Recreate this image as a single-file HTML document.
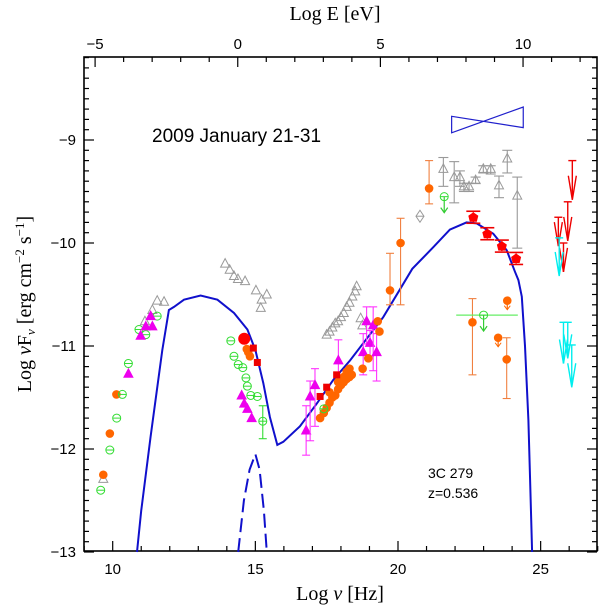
<!DOCTYPE html>
<html><head><meta charset="utf-8"><style>
html,body{margin:0;padding:0;background:#fff;}
svg{display:block;}
.tk{font-family:"Liberation Sans",sans-serif;font-size:15px;fill:#000;}
.tt{font-family:"Liberation Serif",serif;font-size:20px;fill:#000;}
</style></head><body>
<svg id="chart" width="600" height="607" viewBox="0 0 600 607" xmlns="http://www.w3.org/2000/svg">
<rect x="84" y="57" width="513" height="494" fill="none" stroke="#000" stroke-width="1.6"/>
<g id="ticks"></g>
<g id="marks"></g>
<text class="tt" x="340" y="600" text-anchor="middle">Log <tspan font-style="italic">ν</tspan> [Hz]</text>
<text class="tt" x="335" y="20" text-anchor="middle">Log E [eV]</text>
<text class="tt" transform="translate(31,304) rotate(-90)" text-anchor="middle">Log <tspan font-style="italic">ν</tspan>F<tspan font-size="13" dy="4"><tspan font-style="italic">ν</tspan></tspan><tspan dy="-4"> [erg cm</tspan><tspan font-size="13" dy="-7">−2</tspan><tspan dy="7"> s</tspan><tspan font-size="13" dy="-7">−1</tspan><tspan dy="7">]</tspan></text>
<text x="152" y="142" font-family="Liberation Sans, sans-serif" font-size="19">2009 January 21-31</text>
<text x="428" y="478" font-family="Liberation Sans, sans-serif" font-size="14">3C 279</text>
<text x="428" y="498" font-family="Liberation Sans, sans-serif" font-size="14">z=0.536</text>
</svg>
<script>
const xTicksMajor=[10,15,20,25];
const eTicksMajor=[-5,0,5,10];
const yTicksMajor=[-9,-10,-11,-12,-13];
const curveNu=[10.85,11.0,11.33,11.74,11.97,12.15,12.5,13.08,13.67,14.25,14.72,15.0,15.28,15.51,15.77,15.98,16.56,17.15,17.73,18.32,18.9,19.48,20.07,20.5,21.24,21.82,22.4,22.76,23.34,23.81,24.1,24.22,24.34,24.45,24.57,24.63,24.7];
const curveF=[-13,-12.6,-11.88,-11.04,-10.65,-10.62,-10.55,-10.51,-10.55,-10.68,-10.84,-11.04,-11.36,-11.69,-11.96,-11.93,-11.78,-11.56,-11.33,-11.14,-10.93,-10.72,-10.45,-10.25,-10.04,-9.87,-9.8,-9.81,-9.91,-10.07,-10.28,-10.36,-10.52,-11.0,-11.72,-12.3,-13];
const diskNu=[14.4,14.6,14.8,15.0,15.15,15.3,15.4];
const diskF=[-13,-12.5,-12.2,-12.05,-12.2,-12.6,-13];
const grayNu=[9.67,11.13,11.39,11.56,11.80,13.94,14.1,14.25,14.39,14.64,15.02,15.40,15.22,15.19,17.5,17.6,17.7,17.8,17.9,18.0,18.1,18.2,18.3,18.4,18.5,18.55,18.69,18.75];
const grayF=[-12.29,-10.76,-10.65,-10.56,-10.57,-10.2,-10.26,-10.32,-10.35,-10.37,-10.46,-10.5,-10.55,-10.63,-10.89,-10.86,-10.82,-10.78,-10.76,-10.72,-10.68,-10.62,-10.58,-10.52,-10.47,-10.42,-10.73,-10.8];
const grayGamNu=[21.59,21.97,22.17,22.31,22.49,22.72,22.99,23.25,23.54,23.83,24.18];
const grayGamF=[-9.28,-9.36,-9.36,-9.45,-9.45,-9.39,-9.28,-9.28,-9.44,-9.18,-9.54];
const grayGamHi=[-9.17,-9.21,-9.3,-9.42,-9.42,-9.36,-9.25,-9.25,-9.35,-9.1,-9.36];
const grayGamLo=[-9.45,-9.61,-9.45,-9.5,-9.5,-9.42,-9.32,-9.33,-9.56,-9.32,-10.05];
const diamondNu=[20.77];
const diamondF=[-9.74];
const greenNu=[9.58,9.90,10.14,10.34,10.55,10.92,11.16,11.56,14.14,14.25,14.40,14.56,14.67,14.72,14.84,15.07,15.26,17.4];
const greenF=[-12.40,-12.01,-11.70,-11.47,-11.17,-10.84,-10.89,-10.71,-10.95,-11.1,-11.18,-11.21,-11.31,-11.39,-11.48,-11.49,-11.73,-11.61];
const greenLimNu=[21.62,23.0];
const greenLimF=[-9.55,-10.70];
const orangeNu=[9.67,9.90,10.13,14.70,14.81,14.75,17.27,17.4,17.5,17.6,17.7,17.8,17.9,18.0,18.1,18.2,18.3,18.38,17.6,17.9,18.1,18.2,18.3,18.76,18.96,19.29,19.35];
const orangeF=[-12.25,-11.85,-11.47,-11.03,-11.1,-11.06,-11.70,-11.65,-11.6,-11.55,-11.5,-11.48,-11.42,-11.38,-11.35,-11.32,-11.3,-11.28,-11.45,-11.35,-11.3,-11.25,-11.22,-11.22,-11.12,-10.76,-10.86];
const orangeErrNu=[19.72,20.09,21.09,22.61,23.81];
const orangeErrF=[-10.46,-10.0,-9.47,-10.77,-11.13];
const orangeErrHi=[-10.1,-9.76,-9.2,-10.54,-10.92];
const orangeErrLo=[-10.6,-10.6,-9.62,-11.28,-11.51];
const orangeLimNu=[23.83,23.51];
const orangeLimF=[-10.56,-10.92];
const magNu=[10.55,10.98,11.16,11.39,11.33,14.52,14.61,14.72,14.87];
const magF=[-11.27,-10.9,-10.81,-10.81,-10.71,-11.48,-11.56,-11.61,-11.70];
const magErrNu=[16.78,16.92,17.09,17.91,18.78,18.90,19.02,19.13,19.25];
const magErrF=[-11.82,-11.49,-11.38,-11.14,-11.06,-10.76,-10.97,-10.80,-11.06];
const magErrHi=[-11.58,-11.34,-11.22,-10.94,-10.88,-10.62,-10.85,-10.62,-10.88];
const magErrLo=[-12.06,-11.92,-11.78,-11.28,-11.28,-10.98,-11.1,-11.24,-11.34];
const redCircNu=[14.61];
const redCircF=[-10.93];
const redSqNu=[14.93,15.07,17.27,17.5,17.85];
const redSqF=[-11.02,-11.16,-11.49,-11.40,-11.28];
const redPentNu=[22.64,23.13,23.64,24.14];
const redPentF=[-9.75,-9.91,-10.03,-10.15];
const redArrNu=[26.11,25.95,25.62,25.8];
const redArrTop=[-9.2,-9.6,-9.75,-10.0];
const redArrTip=[-9.58,-9.98,-10.03,-10.28];
const cyanArrNu=[25.65,25.8,25.95,26.09];
const cyanArrTop=[-9.95,-10.77,-10.77,-10.99];
const cyanArrTip=[-10.32,-11.17,-11.12,-11.4];
const bowNu=[21.88,24.39];
const bowTop=[-8.77,-8.68];
const bowBot=[-8.93,-8.88];

const NS='http://www.w3.org/2000/svg';
function px(n){return 112.7+(n-10)*28.53;}
function py(v){return 140-(v+9)*103;}
const T=document.getElementById('ticks'), M=document.getElementById('marks');
function mk(tag,attrs,parent){const e=document.createElementNS(NS,tag);for(const k in attrs)e.setAttribute(k,attrs[k]);(parent||M).appendChild(e);return e;}
function line(x1,y1,x2,y2,c,w,p){return mk('line',{x1:x1,y1:y1,x2:x2,y2:y2,stroke:c,'stroke-width':w||1},p);}
for(let n=9;n<=27;n++){const x=px(n);const L=(n%5===0)?10:5;
 line(x,551,x,551-L,'#000',1.2,T);}
for(let e=-6;e<=12;e++){const x=px(e+14.383);if(x<84||x>597)continue;const L=(e%5===0)?10:5;line(x,57,x,57+L,'#000',1.2,T);}
for(let i=-130;i<=-82;i++){const v=i/10;const y=py(v);const L=(i%10===0)?10:5;line(84,y,84+L,y,'#000',1.2,T);line(597,y,597-L,y,'#000',1.2,T);}
xTicksMajor.forEach(n=>{const t=mk('text',{x:px(n),y:574,'text-anchor':'middle',class:'tk'},T);t.textContent=n;

});
eTicksMajor.forEach(e=>{const t=mk('text',{x:px(e+14.383),y:49,'text-anchor':'middle',class:'tk'},T);t.textContent=(e<0?'−':'')+Math.abs(e);

});
yTicksMajor.forEach(v=>{const t=mk('text',{x:76,y:py(v)+5,'text-anchor':'end',class:'tk'},T);t.textContent='−'+Math.abs(v);

});
let d=curveNu.map((n,i)=>(i?'L':'M')+px(n).toFixed(1)+','+py(curveF[i]).toFixed(1)).join(' ');
const c1=mk('path',{d:d,fill:'none',stroke:'#1010cc','stroke-width':2});


d=diskNu.map((n,i)=>(i?'L':'M')+px(n).toFixed(1)+','+py(diskF[i]).toFixed(1)).join(' ');
const c2=mk('path',{d:d,fill:'none',stroke:'#1010cc','stroke-width':2,'stroke-dasharray':'14,6'});


const bw=mk('polygon',{points:[px(bowNu[0]),py(bowTop[0]),px(bowNu[1]),py(bowBot[1]),px(bowNu[1]),py(bowTop[1]),px(bowNu[0]),py(bowBot[0])].join(' '),fill:'none',stroke:'#2020cc','stroke-width':1.2});


function err(n,hi,lo,c,w){const x=px(n);w=w||4;line(x,py(hi),x,py(lo),c,1.1);line(x-w,py(hi),x+w,py(hi),c,1.1);line(x-w,py(lo),x+w,py(lo),c,1.1);}
function tri(n,v,c,fill,name){const x=px(n),y=py(v);const p=mk('polygon',{points:`${x},${y-5} ${x-4.5},${y+3.5} ${x+4.5},${y+3.5}`,fill:fill,stroke:c,'stroke-width':1});

}
function circ(n,v,r,c,fill,name){const x=px(n),y=py(v);const p=mk('circle',{cx:x,cy:y,r:r,fill:fill,stroke:c,'stroke-width':1});

if(fill==='none')line(x-r,y,x+r,y,c,1);}
function arrow(n,top,tip,c,name){const x=px(n),y1=py(top),y2=py(tip);const g=mk('g',{});


line(x,y1,x,y2,c,1.4,g);line(x-4,y1,x+4,y1,c,1.4,g);mk('polyline',{points:`${x-4},${y2-24} ${x},${y2} ${x+4},${y2-24}`,fill:'none',stroke:c,'stroke-width':1.4},g);}
grayGamNu.forEach((n,i)=>{err(n,grayGamHi[i],grayGamLo[i],'#999',5);tri(n,grayGamF[i],'#999','none','gray-gamma-point');});
grayNu.forEach((n,i)=>tri(n,grayF[i],'#999','none','gray-point'));
diamondNu.forEach((n,i)=>{const x=px(n),y=py(diamondF[i]);const p=mk('polygon',{points:`${x},${y-6} ${x-4},${y} ${x},${y+6} ${x+4},${y}`,fill:'none',stroke:'#999'});

line(x-4,y,x+4,y,'#999',1);});
orangeErrNu.forEach((n,i)=>{err(n,orangeErrHi[i],orangeErrLo[i],'#f08040');circ(n,orangeErrF[i],3.8,'#f60','#f60','orange-point');});
magErrNu.forEach((n,i)=>{err(n,magErrHi[i],magErrLo[i],'#f3f');tri(n,magErrF[i],'#e0e','#e0e','magenta-xray-point');});
orangeNu.forEach((n,i)=>circ(n,orangeF[i],3.8,'#f60','#f60','orange-point'));
orangeLimNu.forEach((n,i)=>{const x=px(n),y=py(orangeLimF[i]);line(x,y,x,y+9,'#f60',1.2);mk('polyline',{points:`${x-3},${y+5} ${x},${y+9} ${x+3},${y+5}`,fill:'none',stroke:'#f60'});circ(n,orangeLimF[i],3.8,'#f60','#f60','orange-limit');});
greenNu.forEach((n,i)=>circ(n,greenF[i],4,'#3d3','none','green-point'));
err(15.26,-11.58,-11.9,'#3d3');
line(px(22.04),py(-10.70),px(24.2),py(-10.70),'#6e6',1.2);
greenLimNu.forEach((n,i)=>{const x=px(n),y=py(greenLimF[i]);line(x,y,x,y+16,'#3c3',1.2);mk('polyline',{points:`${x-3.5},${y+11} ${x},${y+16} ${x+3.5},${y+11}`,fill:'none',stroke:'#3c3','stroke-width':1.2});circ(n,greenLimF[i],4,'#3d3','none','green-limit');});
magNu.forEach((n,i)=>tri(n,magF[i],'#e0e','#e0e','magenta-point'));
redCircNu.forEach((n,i)=>circ(n,redCircF[i],5.5,'#f00','#f00','red-circle'));
redSqNu.forEach((n,i)=>{const x=px(n),y=py(redSqF[i]);const p=mk('rect',{x:x-3.5,y:y-3.5,width:7,height:7,fill:'#e00'});

});
redPentNu.forEach((n,i)=>{const x=px(n),y=py(redPentF[i]);line(x,y-5,x,y+5,'#e00',1.4);line(x-7,y-6,x+7,y-6,'#e00',1.6);line(x-7,y+6,x+7,y+6,'#e00',1.6);
const p=mk('polygon',{points:`${x},${y-5} ${x+5},${y-1.5} ${x+3.5},${y+4.5} ${x-3.5},${y+4.5} ${x-5},${y-1.5}`,fill:'#f00'});

});
redArrNu.forEach((n,i)=>arrow(n,redArrTop[i],redArrTip[i],'#e00','red-upper-limit'));
cyanArrNu.forEach((n,i)=>arrow(n,cyanArrTop[i],cyanArrTip[i],'#0ee','cyan-upper-limit'));
</script>
</body></html>
